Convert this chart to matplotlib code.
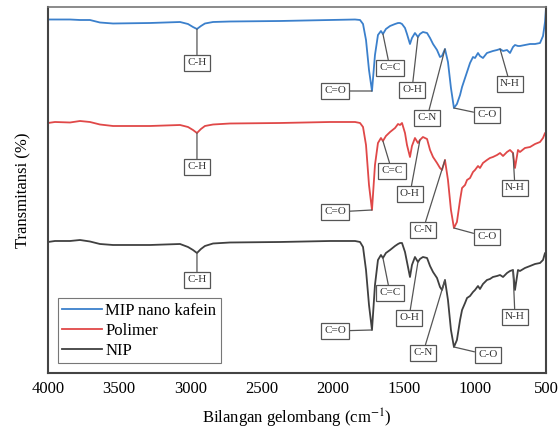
import numpy as np
import matplotlib
matplotlib.use("Agg")
import matplotlib.pyplot as plt

plt.rcParams["font.family"] = ["Liberation Serif", "DejaVu Serif"]
plt.rcParams["mathtext.fontset"] = "stix"

# --- data (wavenumber in cm-1, transmittance in arbitrary offset units) ---
wn = [4000, 3951, 3845, 3775, 3705, 3635, 3543, 3283, 3072, 3016, 2981, 2953, 2925, 2897,
      2840, 2721, 2370, 2018, 1842, 1807, 1786, 1765, 1744, 1723, 1702, 1681, 1660, 1646,
      1625, 1596, 1561, 1540, 1526, 1512, 1491, 1477, 1456, 1442, 1421, 1400, 1386, 1365,
      1336, 1315, 1294, 1266, 1245, 1231, 1210, 1189, 1168, 1147, 1126, 1104, 1090, 1069,
      1055, 1034, 1013, 999, 978, 964, 943, 915, 894, 873, 844, 823, 802, 774, 753, 732,
      718, 697, 683, 648, 612, 577, 542, 521, 507, 500]

t_mip = [353.5, 353.5, 353.5, 353, 353, 350.5, 349.5, 350, 351, 349, 346, 344, 347, 349.5,
         351, 351.5, 352, 353, 353.5, 353, 349, 333, 303, 282, 318, 338, 342, 339,
         344, 347, 349, 350, 350, 349, 345, 339, 329, 335, 340, 336, 339, 341,
         340, 335, 329, 323, 316, 317, 324, 311, 285, 265, 269, 278, 286, 295,
         301, 310, 316, 315, 320, 317, 315, 320, 321, 322, 323, 324, 322, 323, 320, 326,
         328, 327, 327, 328, 329, 329, 330, 337, 351, 365]

t_polimer = [250, 251, 250.5, 252, 251, 248.5, 247, 247, 248, 246, 243, 240, 244, 247,
             248.5, 249.5, 250, 251, 251, 250, 246, 228, 188, 163, 208, 230, 235, 232,
             237, 241, 245, 249, 248, 250, 240, 228, 216, 227, 235, 230, 233, 236,
             234, 223, 216, 210, 205, 203, 213, 193, 163, 145, 151, 173, 185, 188,
             193, 195, 201, 203, 207, 205, 210, 213, 215, 216, 218, 220, 217, 221, 223, 220,
             205, 223, 221, 225, 226, 229, 231, 235, 240, 237]

t_nip = [131, 132, 132, 133, 131.5, 129, 128, 128, 129, 126, 123, 120, 124, 127,
         129.5, 130.5, 131, 132, 132, 131, 126, 103, 68, 43, 88, 113, 118, 115,
         120, 123, 127, 129, 130, 130, 121, 111, 96, 108, 116, 111, 114, 116,
         115, 107, 101, 95, 86, 83, 93, 73, 43, 26, 33, 53, 63, 70,
         75, 77, 81, 83, 87, 84, 89, 93, 94, 96, 97, 98, 96, 100, 102, 103,
         83, 103, 102, 105, 107, 109, 110, 113, 120, 117]

series_names = ["MIP nano kafein", "Polimer", "NIP"]
series_colors = ["#3b80cc", "#e04848", "#404040"]

bond_labels = ["C-H", "C=O", "C=C", "O-H", "C-N", "C-O", "N-H"]
bond_wn_mip = [2953, 1723, 1646, 1400, 1210, 1147, 823]
bond_wn_polimer = [2953, 1723, 1646, 1386, 1210, 1147, 732]
bond_wn_nip = [2953, 1723, 1646, 1400, 1210, 1147, 732]

# label box offsets (pixels from the marked point), per series
offs_mip = [(0, -34), (-37, 0), (7, -34), (-6, -53), (-18, -69), (33, -7), (10, -35)]
offs_polimer = [(0, -34), (-37, -2), (9, -30), (-10, -54), (-22, -70), (33, -9), (2, -35)]
offs_nip = [(0, -27), (-37, -1), (7, -35), (-9, -56), (-22, -73), (34, -8), (2, -47)]

fig = plt.figure(figsize=(5.58, 4.32), dpi=100)
ax = fig.add_axes([0.086, 0.1366, 0.8925, 0.8472])

all_t = [t_mip, t_polimer, t_nip]
all_bonds = [bond_wn_mip, bond_wn_polimer, bond_wn_nip]
all_offs = [offs_mip, offs_polimer, offs_nip]

x = np.array(wn)
for name, col, t in zip(series_names, series_colors, all_t):
    ax.plot(x, t, color=col, lw=1.3, label=name)

# peak annotations
for t, bonds, offs in zip(all_t, all_bonds, all_offs):
    for lab, w, (dx, dy) in zip(bond_labels, bonds, offs):
        y = np.interp(w, x[::-1], np.array(t)[::-1])
        ax.annotate(lab, xy=(w, y), xytext=(dx, dy), textcoords="offset pixels",
                    ha="center", va="center", fontsize=8, color="#333333",
                    bbox=dict(boxstyle="square,pad=0.3", fc="white", ec="#555555", lw=0.9),
                    arrowprops=dict(arrowstyle="-", color="#555555", lw=0.9,
                                    shrinkA=0, shrinkB=0))

ax.set_xlim(4000, 500)
ax.set_ylim(0, 366)
ax.set_xticks([4000, 3500, 3000, 2500, 2000, 1500, 1000, 500])
ax.set_yticks([])
ax.tick_params(axis="x", length=0, labelsize=12, pad=6)
ax.set_xlabel("Bilangan gelombang (cm$^{-1}$)", fontsize=12, labelpad=7)
ax.set_ylabel("Transmitansi (%)", fontsize=12, labelpad=12)

for s in ["left", "bottom", "right"]:
    ax.spines[s].set_color("#444444")
    ax.spines[s].set_linewidth(1.5)
ax.spines["top"].set_color("#777777")
ax.spines["top"].set_linewidth(1.2)

leg = ax.legend(loc="lower left", bbox_to_anchor=(0.02, 0.027), borderaxespad=0,
                fontsize=12, fancybox=False, edgecolor="#777777", framealpha=1,
                handlelength=2.4, labelspacing=0.25, borderpad=0.25, handletextpad=0.2)
leg.get_frame().set_linewidth(0.8)

fig.savefig("out.png", dpi=100)
